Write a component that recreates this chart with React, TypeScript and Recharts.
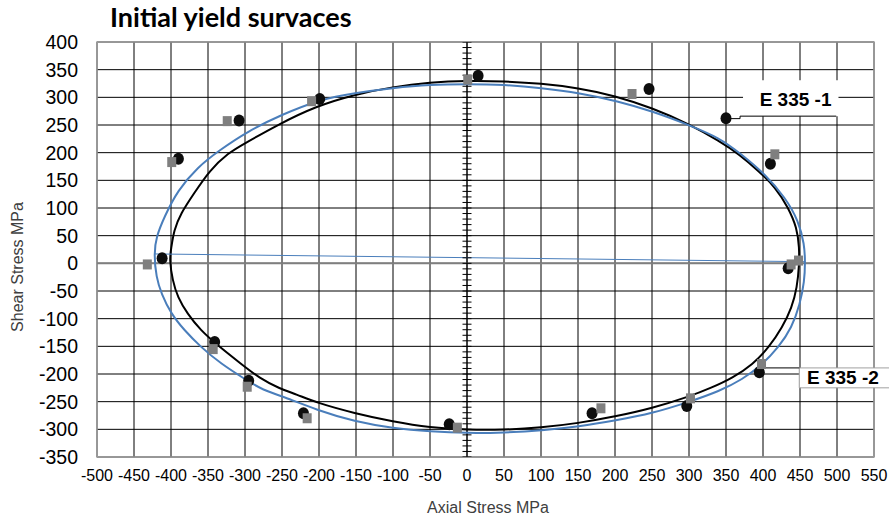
import {
  ComposedChart,
  XAxis,
  YAxis,
  CartesianGrid,
  Line,
  Scatter,
  ReferenceLine,
  ReferenceArea,
  ReferenceDot,
  Label,
} from 'recharts';

const xTicks = [-500, -450, -400, -350, -300, -250, -200, -150, -100, -50, 0, 50, 100, 150, 200, 250, 300, 350, 400, 450, 500, 550];
const yTicks = [-350, -300, -250, -200, -150, -100, -50, 0, 50, 100, 150, 200, 250, 300, 350, 400];

// measured points, specimen E 335 -1 (black dots)
const e3351 = [
  { x: 15, y: 339 }, { x: 246, y: 315 }, { x: 350, y: 262 }, { x: 410, y: 180 },
  { x: 434, y: -9 }, { x: 395, y: -197 }, { x: 297, y: -258 }, { x: 169, y: -271 },
  { x: -24, y: -291 }, { x: -221, y: -271 }, { x: -295, y: -212 }, { x: -341, y: -142 },
  { x: -412, y: 9 }, { x: -390, y: 189 }, { x: -308, y: 258 }, { x: -199, y: 297 },
];

// measured points, specimen E 335 -2 (grey squares)
const e3352 = [
  { x: 1, y: 332 }, { x: 223, y: 306 }, { x: 416, y: 197 }, { x: 438, y: -2 },
  { x: 448, y: 5 }, { x: 398, y: -182 }, { x: 302, y: -244 }, { x: 181, y: -262 },
  { x: -13, y: -297 }, { x: -216, y: -280 }, { x: -297, y: -223 }, { x: -343, y: -155 },
  { x: -432, y: -2 }, { x: -399, y: 183 }, { x: -324, y: 257 }, { x: -210, y: 293 },
];

// fitted surface, black
const blackFit = [
  { x: -402, y: 8 }, { x: -400, y: 25 }, { x: -396, y: 60 }, { x: -387, y: 90 },
  { x: -369, y: 126 }, { x: -348, y: 168 }, { x: -322, y: 200 }, { x: -304, y: 214 },
  { x: -255, y: 251 }, { x: -204, y: 284 }, { x: -152, y: 305 }, { x: -100, y: 319 },
  { x: -50, y: 327 }, { x: 0, y: 330 }, { x: 50, y: 329 }, { x: 100, y: 325 },
  { x: 150, y: 317 }, { x: 200, y: 303 }, { x: 250, y: 281 }, { x: 300, y: 252 },
  { x: 341, y: 221 }, { x: 368, y: 197 }, { x: 394, y: 167 }, { x: 417, y: 137 },
  { x: 434, y: 101 }, { x: 446, y: 64 }, { x: 449, y: 28 }, { x: 449, y: -2 },
  { x: 446, y: -44 }, { x: 439, y: -80 }, { x: 426, y: -116 }, { x: 408, y: -152 },
  { x: 386, y: -183 }, { x: 359, y: -207 }, { x: 330, y: -225 }, { x: 300, y: -241 },
  { x: 250, y: -262 }, { x: 200, y: -277 }, { x: 150, y: -289 }, { x: 100, y: -297 },
  { x: 50, y: -301 }, { x: 0, y: -301 }, { x: -50, y: -297 }, { x: -100, y: -286 },
  { x: -152, y: -271 }, { x: -203, y: -252 }, { x: -230, y: -237 }, { x: -254, y: -226 },
  { x: -280, y: -208 }, { x: -305, y: -182 }, { x: -338, y: -147 }, { x: -360, y: -121 },
  { x: -378, y: -91 }, { x: -391, y: -61 }, { x: -398, y: -31 },
];

// fitted surface, blue
const blueFit = [
  { x: -423, y: 17 }, { x: -420, y: 48 }, { x: -409, y: 84 }, { x: -391, y: 132 },
  { x: -364, y: 174 }, { x: -335, y: 204 }, { x: -296, y: 239 }, { x: -250, y: 269 },
  { x: -199, y: 296 }, { x: -152, y: 308 }, { x: -100, y: 317 }, { x: -50, y: 323 },
  { x: 0, y: 324 }, { x: 50, y: 323 }, { x: 100, y: 317 }, { x: 152, y: 308 },
  { x: 204, y: 293 }, { x: 250, y: 275 }, { x: 300, y: 250 }, { x: 341, y: 227 },
  { x: 370, y: 198 }, { x: 403, y: 161 }, { x: 430, y: 119 }, { x: 448, y: 77 },
  { x: 456, y: 34 }, { x: 457, y: 2 }, { x: 456, y: -32 }, { x: 450, y: -74 },
  { x: 439, y: -116 }, { x: 421, y: -152 }, { x: 399, y: -183 }, { x: 372, y: -210 },
  { x: 341, y: -231 }, { x: 301, y: -250 }, { x: 251, y: -271 }, { x: 201, y: -284 },
  { x: 151, y: -295 }, { x: 101, y: -302 }, { x: 50, y: -306 }, { x: 0, y: -307 },
  { x: -49, y: -304 }, { x: -100, y: -298 }, { x: -152, y: -286 }, { x: -203, y: -265 },
  { x: -248, y: -241 }, { x: -276, y: -229 }, { x: -298, y: -211 }, { x: -333, y: -181 },
  { x: -360, y: -151 }, { x: -382, y: -121 }, { x: -400, y: -91 }, { x: -413, y: -55 },
  { x: -420, y: -25 },
];

const blueChord = [{ x: -423, y: 17 }, { x: 457, y: 3 }];

// minor tick marks along the vertical axis
const minorTicks = Array.from({ length: 76 }, (_, i) => ({ x: 0, y: -350 + i * 10 }));

const BlackDot = (p: any) => <ellipse cx={p.cx} cy={p.cy} rx={5.5} ry={6} fill="#0d0d0d" />;
const GreySquare = (p: any) => (
  <rect x={p.cx - 4.5} y={p.cy - 5} width={9} height={10} fill="#7f7f7f" />
);
const MinorTick = (p: any) => (
  <line x1={p.cx - 4.5} x2={p.cx + 4.5} y1={p.cy} y2={p.cy} stroke="#000" strokeWidth={1} />
);

const tickFont = { fontFamily: 'Liberation Sans, Arial, sans-serif', fill: '#000' };

export default function App() {
  return (
    <div
      style={{
        position: 'absolute',
        left: 0,
        top: 0,
        width: 889,
        height: 520,
        background: '#fff',
        fontFamily: 'Liberation Sans, Arial, sans-serif',
      }}
    >
      <ComposedChart width={889} height={520} margin={{ top: 42, right: 15, left: 0, bottom: 33 }}>
        <CartesianGrid stroke="#000" strokeWidth={1} />
        <XAxis
          type="number"
          dataKey="x"
          domain={[-500, 550]}
          ticks={xTicks}
          interval={0}
          allowDataOverflow
          height={30}
          tickLine={false}
          axisLine={false}
          tickSize={0}
          tickMargin={13}
          tick={{ ...tickFont, fontSize: 16 }}
        />
        <YAxis
          type="number"
          dataKey="y"
          domain={[-350, 400]}
          ticks={yTicks}
          interval={0}
          allowDataOverflow
          width={97}
          tickLine={false}
          axisLine={false}
          tickSize={0}
          tickMargin={19}
          tick={{ ...tickFont, fontSize: 19.5 }}
        />
        <ReferenceArea
          x1={-500}
          x2={550}
          y1={-350}
          y2={400}
          fill="none"
          stroke="#a0a0a0"
          strokeWidth={1.5}
          ifOverflow="visible"
        />
        <ReferenceLine y={0} stroke="#7f7f7f" strokeWidth={2} />
        <ReferenceLine x={0} stroke="#000" strokeWidth={1} />
        <Scatter data={minorTicks} shape={MinorTick} isAnimationActive={false} />

        <Line data={blackFit} dataKey="y" type="basisClosed" stroke="#000" strokeWidth={2} dot={false} activeDot={false} isAnimationActive={false} />
        <Line data={blueFit} dataKey="y" type="basisClosed" stroke="#4a7ebb" strokeWidth={2} dot={false} activeDot={false} isAnimationActive={false} />
        <Line data={blueChord} dataKey="y" type="linear" stroke="#4a7ebb" strokeWidth={1} dot={false} activeDot={false} isAnimationActive={false} />

        <Scatter data={e3351} shape={BlackDot} isAnimationActive={false} />
        <Scatter data={e3352} shape={GreySquare} isAnimationActive={false} />

        {/* callout E 335 -1 */}
        <ReferenceArea x1={373} x2={502} y1={266} y2={331} fill="#fff" fillOpacity={1} stroke="none" ifOverflow="visible" />
        <ReferenceLine segment={[{ x: 350, y: 261.5 }, { x: 369, y: 261.5 }]} stroke="#000" ifOverflow="visible" />
        <ReferenceLine segment={[{ x: 369, y: 261.5 }, { x: 369, y: 266 }]} stroke="#000" ifOverflow="visible" />
        <ReferenceLine segment={[{ x: 369, y: 266 }, { x: 499, y: 266 }]} stroke="#000" ifOverflow="visible" />
        <ReferenceDot x={444} y={297} r={0} fill="none" stroke="none" ifOverflow="visible">
          <Label value="E 335 -1" position="center" fontSize={19} fontWeight="bold" fill="#000" />
        </ReferenceDot>

        {/* callout E 335 -2 */}
        <ReferenceArea x1={449} x2={575} y1={-189} y2={-225} fill="#fff" fillOpacity={1} stroke="#a0a0a0" ifOverflow="visible" />
        <ReferenceLine segment={[{ x: 403, y: -189 }, { x: 449, y: -189 }]} stroke="#000" ifOverflow="visible" />
        <ReferenceDot x={508} y={-206} r={0} fill="none" stroke="none" ifOverflow="visible">
          <Label value="E 335 -2" position="center" fontSize={19} fontWeight="bold" fill="#000" />
        </ReferenceDot>
      </ComposedChart>

      <svg width={889} height={520} style={{ position: 'absolute', left: 0, top: 0, pointerEvents: 'none' }}>
        <text x={110} y={27} fontFamily="Lato, sans-serif" fontWeight={700} fontSize={27} fill="#000">
          Initial yield survaces
        </text>
        <text x={488} y={513} textAnchor="middle" fontSize={16} fill="#404040">
          Axial Stress MPa
        </text>
        <text
          x={17.5}
          y={267}
          textAnchor="middle"
          dominantBaseline="central"
          fontSize={16}
          fill="#404040"
          transform="rotate(-90, 17.5, 267)"
        >
          Shear Stress MPa
        </text>
      </svg>
    </div>
  );
}
